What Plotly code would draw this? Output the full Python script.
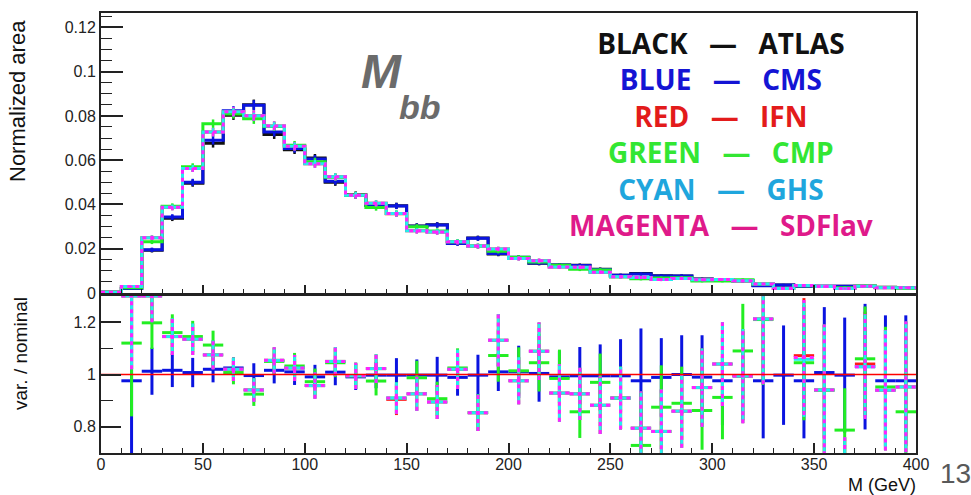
import plotly.graph_objects as go

# ---------------- data ----------------
bin_edges = list(range(0, 401, 10))

atlas = [0.0003, 0.0021, 0.0193, 0.0338, 0.0496, 0.0676, 0.0803, 0.0851, 0.0716, 0.0647,
         0.0610, 0.0500, 0.0444, 0.0396, 0.0394, 0.0303, 0.0308, 0.0226, 0.0248, 0.0176,
         0.0160, 0.0134, 0.0127, 0.0125, 0.0107, 0.0080, 0.0088, 0.0078, 0.0077, 0.0063,
         0.0059, 0.0055, 0.0034, 0.0036, 0.0032, 0.0031, 0.0031, 0.0030, 0.0026, 0.0025]
cms = [0.0003, 0.0020, 0.0195, 0.0343, 0.0500, 0.0690, 0.0823, 0.0848, 0.0727, 0.0653,
       0.0605, 0.0505, 0.0440, 0.0395, 0.0393, 0.0302, 0.0307, 0.0224, 0.0247, 0.0178,
       0.0162, 0.0135, 0.0126, 0.0124, 0.0106, 0.0080, 0.0086, 0.0077, 0.0077, 0.0062,
       0.0058, 0.0055, 0.0033, 0.0036, 0.0031, 0.0031, 0.0031, 0.0030, 0.0025, 0.0024]
ifn = [0.0003, 0.0029, 0.0250, 0.0387, 0.0563, 0.0727, 0.0819, 0.0801, 0.0755, 0.0663,
       0.0584, 0.0525, 0.0442, 0.0405, 0.0358, 0.0281, 0.0276, 0.0231, 0.0212, 0.0199,
       0.0156, 0.0146, 0.0118, 0.0116, 0.0094, 0.0073, 0.0070, 0.0061, 0.0066, 0.0060,
       0.0061, 0.0055, 0.0041, 0.0020, 0.0034, 0.0029, 0.0020, 0.0031, 0.0024, 0.0024]
cmp_ = [0.0003, 0.0024, 0.0231, 0.0392, 0.0570, 0.0765, 0.0809, 0.0787, 0.0752, 0.0668,
        0.0593, 0.0523, 0.0442, 0.0386, 0.0359, 0.0299, 0.0280, 0.0232, 0.0212, 0.0189,
        0.0162, 0.0140, 0.0125, 0.0107, 0.0104, 0.0073, 0.0064, 0.0068, 0.0069, 0.0054,
        0.0054, 0.0060, 0.0041, 0.0020, 0.0033, 0.0029, 0.0024, 0.0032, 0.0025, 0.0021]
ghs = [0.0003, 0.0029, 0.0250, 0.0387, 0.0563, 0.0727, 0.0819, 0.0801, 0.0755, 0.0663,
       0.0584, 0.0525, 0.0442, 0.0405, 0.0359, 0.0281, 0.0276, 0.0231, 0.0212, 0.0199,
       0.0156, 0.0146, 0.0118, 0.0116, 0.0094, 0.0073, 0.0070, 0.0061, 0.0066, 0.0060,
       0.0061, 0.0055, 0.0041, 0.0020, 0.0034, 0.0029, 0.0020, 0.0031, 0.0024, 0.0024]
sdflav = [0.0003, 0.0029, 0.0250, 0.0387, 0.0563, 0.0727, 0.0819, 0.0801, 0.0755, 0.0663,
          0.0584, 0.0525, 0.0442, 0.0405, 0.0359, 0.0281, 0.0276, 0.0231, 0.0212, 0.0199,
          0.0156, 0.0146, 0.0118, 0.0116, 0.0094, 0.0073, 0.0070, 0.0061, 0.0066, 0.0060,
          0.0061, 0.0055, 0.0041, 0.0020, 0.0034, 0.0029, 0.0020, 0.0031, 0.0024, 0.0024]
stat_err = [0.0001, 0.0004, 0.0010, 0.0013, 0.0016, 0.0019, 0.0021, 0.0023, 0.0020, 0.0019,
            0.0018, 0.0016, 0.0015, 0.0014, 0.0014, 0.0012, 0.0012, 0.0011, 0.0011, 0.0010,
            0.0009, 0.0009, 0.0008, 0.0008, 0.0008, 0.0007, 0.0007, 0.0007, 0.0007, 0.0006,
            0.0006, 0.0006, 0.0005, 0.0005, 0.0005, 0.0005, 0.0005, 0.0005, 0.0004, 0.0004]

ratio_cms = [None, 0.976, 1.0125, 1.016, 1.0075, 1.02, 1.025, 0.996, 1.016, 1.01,
             0.991, 1.009, 0.991, 0.9975, 0.9975, 0.9975, 0.9975, 0.989, 0.9975, 1.01,
             1.01, 1.004, 0.991, 0.995, 0.995, 0.995, 0.976, 0.989, 1.0, 0.99,
             0.976, 0.995, 0.976, 0.9975, 0.976, 1.0075, 0.9975, 1.03, 0.976, 0.976]
err_cms = [0, 0.35, 0.09, 0.064, 0.056, 0.05, 0.04, 0.047, 0.05, 0.05,
           0.046, 0.05, 0.05, 0.05, 0.065, 0.06, 0.07, 0.07, 0.078, 0.073,
           0.1, 0.108, 0.1, 0.11, 0.12, 0.14, 0.2, 0.15, 0.15, 0.16,
           0.17, 0.17, 0.22, 0.19, 0.22, 0.25, 0.22, 0.24, 0.25, 0.25]
ratio_ifn = [None, 1.30, 1.30, 1.145, 1.135, 1.075, 1.02, 0.941, 1.054, 1.025,
             0.9575, 1.05, 0.995, 1.0225, 0.905, 0.926, 0.895, 1.02, 0.854, 1.131,
             0.976, 1.089, 0.929, 0.926, 0.8825, 0.91, 0.795, 0.7825, 0.86, 0.95,
             1.04, 0.994, 1.2125, 0.60, 1.072, 0.941, 0.60, 1.04, 0.94, 0.9525]
ratio_cmp = [None, 1.12, 1.1975, 1.16, 1.145, 1.1125, 1.0075, 0.925, 1.05, 1.0325,
             0.9725, 1.045, 0.995, 0.975, 0.91, 0.9875, 0.9075, 1.025, 0.854, 1.0725,
             1.014, 1.045, 0.985, 0.8575, 0.97, 0.91, 0.729, 0.875, 0.89, 0.8625,
             0.9125, 1.09, 1.21, 0.60, 1.045, 0.94, 0.7875, 1.06, 0.9525, 0.8575]
ratio_ghs = [None, 1.30, 1.30, 1.145, 1.135, 1.075, 1.02, 0.941, 1.054, 1.025,
             0.9575, 1.05, 0.995, 1.0225, 0.91, 0.926, 0.895, 1.02, 0.854, 1.131,
             0.976, 1.089, 0.929, 0.926, 0.8825, 0.91, 0.795, 0.7825, 0.86, 0.95,
             1.04, 0.994, 1.2125, 0.60, 1.058, 0.941, 0.60, 1.03, 0.94, 0.9525]
ratio_sdflav = [None, 1.30, 1.30, 1.145, 1.135, 1.075, 1.02, 0.941, 1.054, 1.025,
                0.9575, 1.05, 0.995, 1.0225, 0.91, 0.926, 0.895, 1.02, 0.854, 1.131,
                0.976, 1.089, 0.929, 0.926, 0.8825, 0.91, 0.795, 0.7825, 0.86, 0.95,
                1.04, 0.994, 1.2125, 0.60, 1.065, 0.941, 0.60, 1.03, 0.94, 0.9525]
err_alt = [0, 0.28, 0.10, 0.07, 0.06, 0.055, 0.045, 0.045, 0.05, 0.05,
           0.05, 0.055, 0.05, 0.055, 0.06, 0.065, 0.065, 0.075, 0.07, 0.1,
           0.09, 0.11, 0.11, 0.1, 0.11, 0.12, 0.14, 0.16, 0.14, 0.15,
           0.16, 0.18, 0.25, 0.05, 0.22, 0.25, 0.16, 0.2, 0.23, 0.25]

nominal = 1.0
legend_names = [("BLACK", "ATLAS", "#111111"), ("BLUE", "CMS", "#1414d4"), ("RED", "IFN", "#e31b1b"),
                ("GREEN", "CMP", "#33e633"), ("CYAN", "GHS", "#1fa6dd"), ("MAGENTA", "SDFlav", "#df1a8a")]

# ---------------- styling ----------------
W, H = 971, 495
ML, MR, MT, MB = 101, 55, 13, 42
PW, PH = W - ML - MR, H - MT - MB
FONT = "Liberation Sans, Arial, sans-serif"
AX = "#222222"
GAP = "\u2002\u2009\u200a"

def px_x(px):
    return (px - ML) / PW

def px_y(py):
    return 1 - (py - MT) / PH

def step(vals):
    return bin_edges, list(vals) + [vals[-1]]

def vsegs(vals, errs):
    xs, ys = [], []
    for i, (v, e) in enumerate(zip(vals, errs)):
        if v is None:
            continue
        c = (bin_edges[i] + bin_edges[i + 1]) / 2
        xs += [c, c, None]
        ys += [v - e, v + e, None]
    return xs, ys

def crosses(vals, errs):
    xs, ys = [], []
    for i, (v, e) in enumerate(zip(vals, errs)):
        if v is None:
            continue
        lo, hi = bin_edges[i], bin_edges[i + 1]
        c = (lo + hi) / 2
        xs += [lo, hi, None, c, c, None]
        ys += [v, v, None, v - e, v + e, None]
    return xs, ys

fig = go.Figure()

top_series = [
    (atlas, "#111111", None),
    (cms, "#0a14e0", None),
    (ifn, "#ff1a1a", None),
    (cmp_, "#22ee22", None),
    (ghs, "#22eeee", None),
    (sdflav, "#ff22ff", "4px,4px"),
]
for vals, col, dash in top_series:
    x, y = step(vals)
    fig.add_trace(go.Scatter(x=x, y=y, mode="lines", line=dict(color=col, width=3, shape="hv", dash=dash),
                             xaxis="x", yaxis="y", hoverinfo="skip"))
    ex, ey = vsegs(vals, stat_err)
    fig.add_trace(go.Scatter(x=ex, y=ey, mode="lines", line=dict(color=col, width=2.5, dash=dash),
                             xaxis="x", yaxis="y", hoverinfo="skip"))

ratio_series = [
    (ratio_cms, err_cms, "#0a14e0", None),
    (ratio_ifn, err_alt, "#ff1a1a", None),
    (ratio_cmp, err_alt, "#22ee22", None),
    (ratio_ghs, err_alt, "#22eeee", None),
    (ratio_sdflav, err_alt, "#ff22ff", "4px,4px"),
]
for vals, errs, col, dash in ratio_series:
    x, y = crosses(vals, errs)
    fig.add_trace(go.Scatter(x=x, y=y, mode="lines", line=dict(color=col, width=3, dash=dash),
                             xaxis="x2", yaxis="y2", hoverinfo="skip"))

fig.add_trace(go.Scatter(x=[bin_edges[0], bin_edges[-1]], y=[nominal, nominal], mode="lines",
                         line=dict(color="#ff0000", width=1.5), xaxis="x2", yaxis="y2", hoverinfo="skip"))

axis_common = dict(showline=True, mirror=True, linecolor=AX, linewidth=2, showgrid=False, zeroline=False,
                   ticks="inside", tickcolor=AX, tickwidth=1.5,
                   tickfont=dict(family=FONT, size=16, color="#222222"))

fig.update_layout(
    width=W, height=H, margin=dict(l=ML, r=MR, t=MT, b=MB),
    paper_bgcolor="white", plot_bgcolor="white", showlegend=False,
    xaxis=dict(domain=[0, 1], anchor="y", range=[0, 400], showticklabels=False,
               tickmode="linear", tick0=0, dtick=50, ticklen=8,
               minor=dict(dtick=10, ticklen=4, ticks="inside", tickcolor=AX, tickwidth=1),
               **axis_common),
    yaxis=dict(domain=[px_y(293), 1], anchor="x", range=[0, 0.1265],
               tickmode="linear", tick0=0, dtick=0.02, ticklen=22,
               minor=dict(dtick=0.005, ticklen=11, ticks="inside", tickcolor=AX, tickwidth=1),
               **axis_common),
    xaxis2=dict(domain=[0, 1], anchor="y2", range=[0, 400],
                tickmode="linear", tick0=0, dtick=50, ticklen=10, ticklabelstandoff=-4,
                minor=dict(dtick=10, ticklen=5, ticks="inside", tickcolor=AX, tickwidth=1),
                **axis_common),
    yaxis2=dict(domain=[0, px_y(296)], anchor="x2", range=[0.7, 1.3],
                tickmode="linear", tick0=0, dtick=0.2, ticklen=20,
                minor=dict(dtick=0.1, ticklen=12, ticks="inside", tickcolor=AX, tickwidth=1),
                **axis_common),
)

ann = []
ann.append(dict(text="Normalized area", x=px_x(18), y=px_y(101), xref="paper", yref="paper",
                textangle=-90, showarrow=False, xanchor="center", yanchor="middle",
                font=dict(family=FONT, size=22, color="#111111")))
ann.append(dict(text="var. / nominal", x=px_x(20), y=px_y(354), xref="paper", yref="paper",
                textangle=-90, showarrow=False, xanchor="center", yanchor="middle",
                font=dict(family=FONT, size=19, color="#111111")))
ann.append(dict(text="M (GeV)", x=px_x(917), y=px_y(485), xref="paper", yref="paper",
                showarrow=False, xanchor="right", yanchor="middle", borderpad=0,
                font=dict(family=FONT, size=18, color="#111111")))
ann.append(dict(text="13", x=px_x(955), y=px_y(474), xref="paper", yref="paper",
                showarrow=False, xanchor="center", yanchor="middle",
                font=dict(family=FONT, size=28, color="#595959")))
ann.append(dict(text="<b><i>M</i></b>", x=px_x(381), y=px_y(72), xref="paper", yref="paper",
                showarrow=False, xanchor="center", yanchor="middle",
                font=dict(family=FONT, size=48, color="#6b6b6b")))
ann.append(dict(text="<b><i>bb</i></b>", x=px_x(420), y=px_y(107), xref="paper", yref="paper",
                showarrow=False, xanchor="center", yanchor="middle",
                font=dict(family=FONT, size=34, color="#6b6b6b")))

legend_text = "<br>".join(
    '<span style="color:%s"><b>%s%s—%s%s</b></span>' % (col, colname, GAP, GAP, group)
    for colname, group, col in legend_names)
ann.append(dict(text=legend_text, x=px_x(721), y=px_y(134), xref="paper", yref="paper",
                showarrow=False, xanchor="center", yanchor="middle", align="center", borderpad=0,
                font=dict(family="Open Sans, sans-serif", size=28, color="#111111")))
fig.update_layout(annotations=ann)

fig.write_html("out.html")
